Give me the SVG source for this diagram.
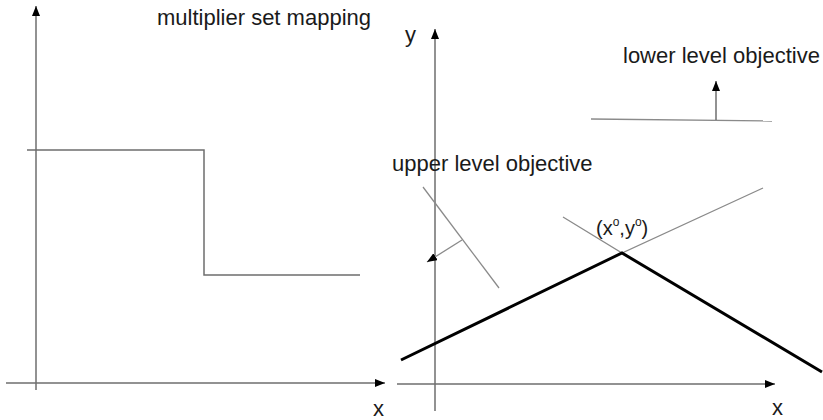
<svg xmlns="http://www.w3.org/2000/svg" width="823" height="420" viewBox="0 0 823 420">
<style>
.ax{stroke:#6e6e6e;stroke-width:1.5;fill:none}
.thin{stroke:#8a8a8a;stroke-width:1.3;fill:none}
.thick{stroke:#000;stroke-width:3;fill:none;stroke-linejoin:miter}
.t{font-family:"Liberation Sans",Arial,sans-serif;font-size:22px;fill:#1a1a1a}
</style>
<defs>
<marker id="ah" viewBox="0 0 10 8" refX="10" refY="4" markerWidth="10" markerHeight="8" markerUnits="userSpaceOnUse" orient="auto">
<path d="M0,0 L10,4 L0,8 Z" fill="#000"/>
</marker>
</defs>
<rect width="823" height="420" fill="#fff"/>
<g id="connectors">
<line class="ax" x1="36" y1="390" x2="36" y2="6" marker-end="url(#ah)"/>
<line class="ax" x1="6" y1="383" x2="385" y2="383" marker-end="url(#ah)"/>
<polyline class="ax" points="27,150 204,150 204,275 360,275"/>
<line class="ax" x1="435" y1="411" x2="435" y2="29" marker-end="url(#ah)"/>
<line class="ax" x1="397" y1="384" x2="775" y2="384" marker-end="url(#ah)"/>
<line class="thin" x1="591" y1="119" x2="772" y2="121"/>
<line class="ax" x1="716" y1="120" x2="716" y2="81" marker-end="url(#ah)"/>
<line class="thin" x1="423" y1="187" x2="499" y2="288"/>
<line class="thin" x1="462" y1="240" x2="427" y2="262" marker-end="url(#ah)"/>
<polyline class="thin" points="563,217 622,253 763,188"/>
<polyline class="thick" points="401,360 622,253 822,372"/>
</g>
<g id="labels">
<text class="t" x="157" y="25">multiplier set mapping</text>
<text class="t" x="373" y="416">x</text>
<text class="t" x="405" y="42">y</text>
<text class="t" x="623" y="63">lower level objective</text>
<text class="t" x="392" y="171">upper level objective</text>
<text class="t" x="596" y="235" style="font-size:20px">(x<tspan font-size="12" dy="-9">o</tspan><tspan dy="9">,y</tspan><tspan font-size="12" dy="-9">o</tspan><tspan dy="9">)</tspan></text>
<text class="t" x="772" y="415">x</text>
</g>
</svg>
